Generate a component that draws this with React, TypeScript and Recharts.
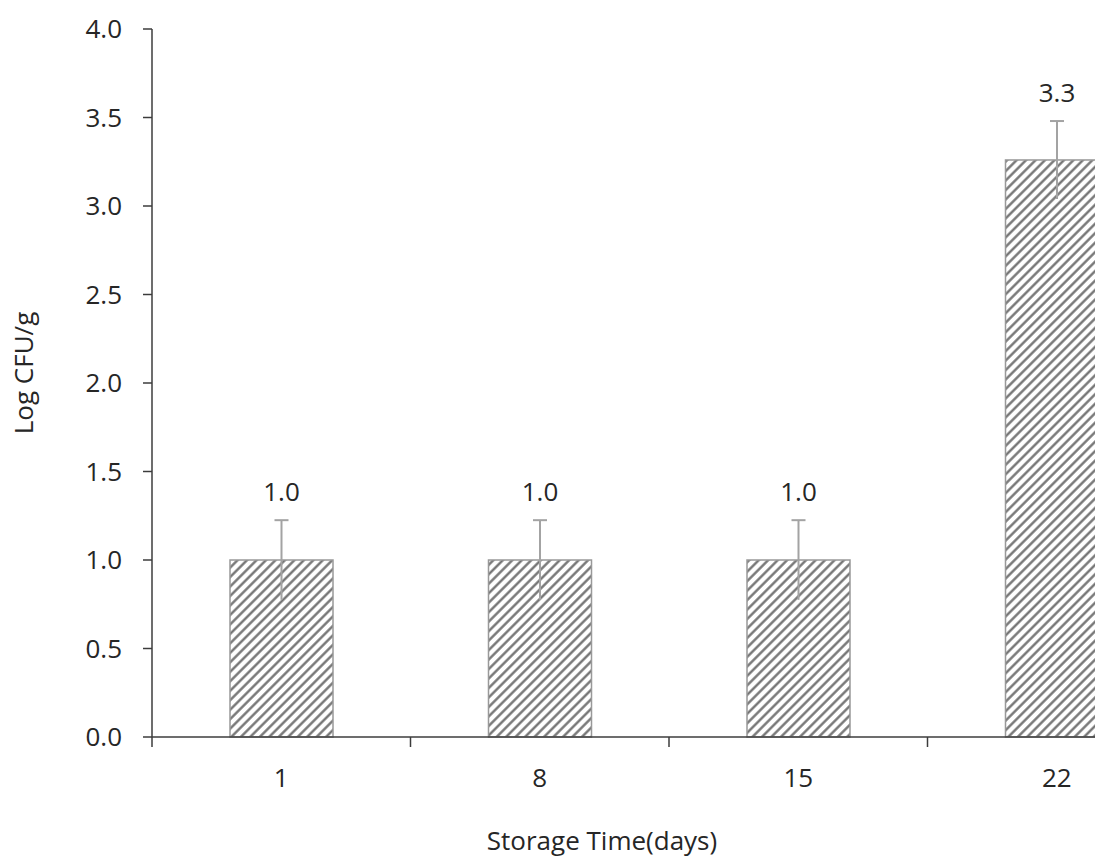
import React from 'react';
import { BarChart, Bar, XAxis, YAxis } from 'recharts';

const categories = ['1', '8', '15', '22'];
const meanValues = [1.0, 1.0, 1.0, 3.26];
const errorValues = [0.225, 0.225, 0.225, 0.22];
const yTicks = [0, 0.5, 1, 1.5, 2, 2.5, 3, 3.5, 4];

const data = categories.map((c, i) => ({ day: c, mean: meanValues[i], err: errorValues[i] }));

const CHART_W = 1200;
const CHART_H = 849;
const MARGIN = { top: 21, right: 22, bottom: 0, left: 0 };
const Y_W = 144;
const X_H = 120;
const PLOT_W = CHART_W - MARGIN.left - MARGIN.right - Y_W;
const BAND = PLOT_W / categories.length;
const FONT = '"Open Sans", sans-serif';
const FS = 26;
const TEXT = '#262626';
const AXIS = '#3c3c3c';
const HATCH = 6.7;

const HatchedBar = (props: any) => {
  const { x, y, width, height, payload, index } = props;
  const pxPerUnit = height / payload.mean;
  const errTop = y - payload.err * pxPerUnit;
  const errBot = y + payload.err * pxPerUnit;
  const cx = x + width / 2;
  const id = `hatch-${index}`;
  return (
    <g>
      <defs>
        <pattern id={id} patternUnits="userSpaceOnUse" width={HATCH} height={HATCH} patternTransform="rotate(45)">
          <rect x={0} y={0} width={HATCH} height={HATCH} fill="#ffffff" />
          <line x1={HATCH / 2} y1={0} x2={HATCH / 2} y2={HATCH} stroke="#6e6e6e" strokeWidth={2.3} />
        </pattern>
      </defs>
      <rect x={x} y={y} width={width} height={height} fill={`url(#${id})`} stroke="#999999" strokeWidth={1.5} />
      <line x1={cx} y1={errBot} x2={cx} y2={errTop} stroke="#a3a3a3" strokeWidth={2} />
      <line x1={cx - 7} x2={cx + 7} y1={errTop} y2={errTop} stroke="#a3a3a3" strokeWidth={2} />
      <text x={cx} y={errTop - 19} textAnchor="middle" fontFamily={FONT} fontSize={FS} fill={TEXT}>
        {payload.mean.toFixed(1)}
      </text>
    </g>
  );
};

const XTick = (props: any) => {
  const { x, y, payload, index } = props;
  const left = x - BAND / 2;
  const right = x + BAND / 2;
  return (
    <g>
      <line x1={left} x2={left} y1={y} y2={y + 10} stroke={AXIS} strokeWidth={1.5} />
      {index === categories.length - 1 && (
        <line x1={right} x2={right} y1={y} y2={y + 10} stroke={AXIS} strokeWidth={1.5} />
      )}
      <text x={x} y={y + 49.5} textAnchor="middle" fontFamily={FONT} fontSize={FS} fill={TEXT}>
        {payload.value}
      </text>
    </g>
  );
};

export default function App() {
  return (
    <div style={{ width: 1095, height: 849, overflow: 'hidden', background: '#fff' }}>
      <BarChart width={CHART_W} height={CHART_H} data={data} margin={MARGIN}>
        <XAxis
          dataKey="day"
          interval={0}
          tickLine={false}
          tickSize={0}
          tickMargin={0}
          height={X_H}
          axisLine={{ stroke: AXIS, strokeWidth: 1.5 }}
          tick={<XTick />}
          label={{
            value: 'Storage Time(days)',
            position: 'insideBottom',
            offset: 7,
            dx: -67,
            style: { fontFamily: FONT, fontSize: FS, fill: TEXT },
          }}
        />
        <YAxis
          domain={[0, 4]}
          ticks={yTicks}
          interval={0}
          tickFormatter={(v: number) => v.toFixed(1)}
          width={Y_W}
          tickSize={9}
          tickMargin={21}
          axisLine={{ stroke: AXIS, strokeWidth: 1.5 }}
          tickLine={{ stroke: AXIS, strokeWidth: 1.5 }}
          tick={{ fontFamily: FONT, fontSize: FS, fill: TEXT }}
          label={{
            value: 'Log CFU/g',
            angle: -90,
            position: 'center',
            dx: -56,
            dy: -10,
            style: { fontFamily: FONT, fontSize: 26, fill: TEXT, textAnchor: 'middle' },
          }}
        />
        <Bar dataKey="mean" barSize={103} shape={<HatchedBar />} isAnimationActive={false} />
      </BarChart>
    </div>
  );
}
